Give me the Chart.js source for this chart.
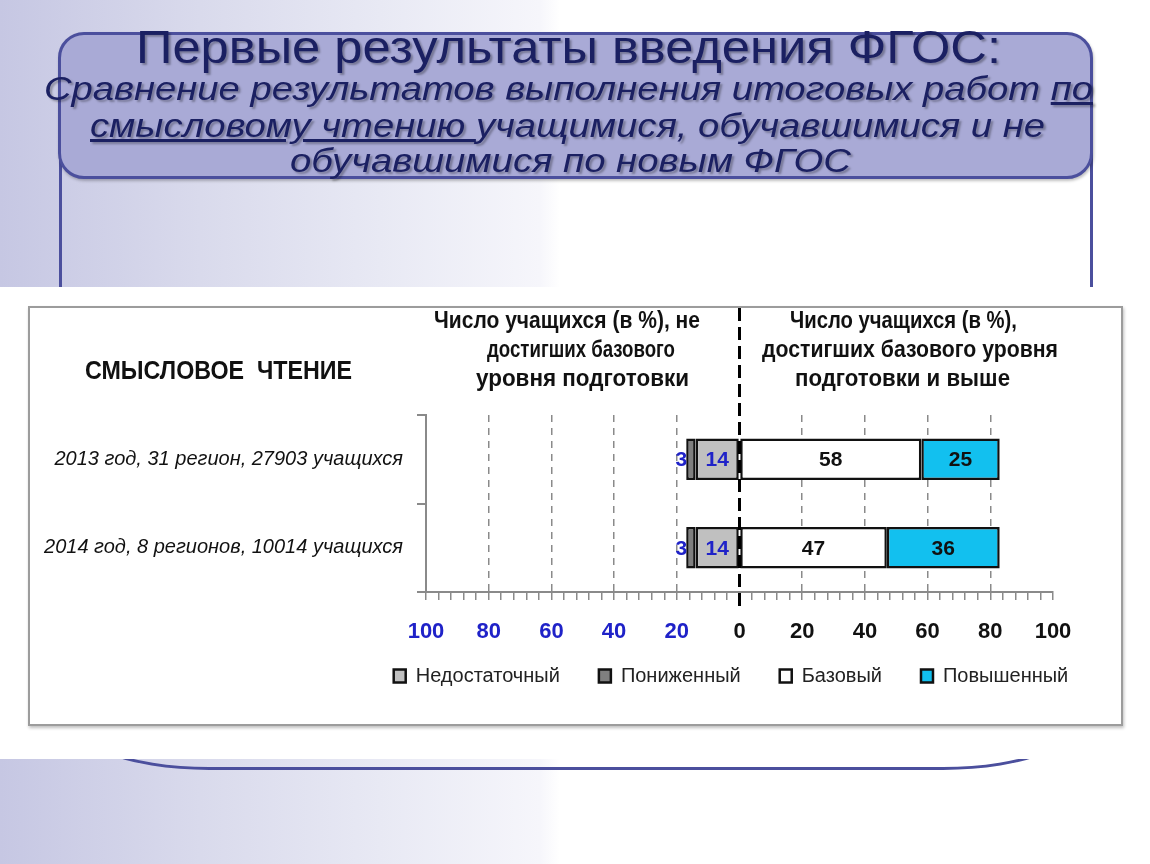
<!DOCTYPE html>
<html lang="ru">
<head>
<meta charset="utf-8">
<script src="https://cdn.jsdelivr.net/npm/chart.js@4.4.1/dist/chart.umd.min.js"></script>
<style>
html,body{margin:0;padding:0}
body{width:1150px;height:864px;position:relative;overflow:hidden;
  background:linear-gradient(to right,#c6c7e3 0px,#d9daec 200px,#e8e9f4 380px,#f6f6fb 540px,#fff 560px);}
#frame{position:absolute;left:59px;top:100px;width:1034px;height:670px;box-sizing:border-box;
  border:3px solid #4b4f9d;border-radius:30px 30px 150px 150px / 30px 30px 60px 60px}
#sheet{position:absolute;left:0;top:287px;width:1150px;height:472px;background:#fff}
#titlebox{position:absolute;left:58px;top:32px;width:1035px;height:147px;box-sizing:border-box;
  background:#a9aad6;border:3px solid #4b4f9d;border-radius:26px;box-shadow:1px 2px 3px rgba(0,0,0,.25)}
.t{position:absolute;white-space:nowrap;transform-origin:0 0;line-height:normal;font-family:'Liberation Sans',Arial,sans-serif}
.ttl{color:#1b2062;text-shadow:2px 2px 2px rgba(0,0,0,.3)}
.sub{font-style:italic;font-size:34px}
.hdr{font-weight:bold;font-size:23px;color:#111}
#panel{position:absolute;left:28px;top:306px;width:1095px;height:420px;box-sizing:border-box;
  border:2px solid #9c9c9c;background:#fff;box-shadow:1px 2px 3px rgba(0,0,0,.25)}
#wrap{position:absolute;left:28px;top:306px;width:1095px;height:420px}
</style>
</head>
<body>
<div id="frame"></div>
<div id="sheet"></div>
<div id="titlebox"></div>
<span class="t ttl" style="left:136px;top:19px;font-size:47px" data-w="865">Первые результаты введения ФГОС:</span>
<span class="t ttl sub" style="left:44px;top:69px" data-w="1049">Сравнение результатов выполнения итоговых работ <u>по</u></span>
<span class="t ttl sub" style="left:90px;top:106px" data-w="955"><u>смысловому чтению </u>учащимися, обучавшимися и не</span>
<span class="t ttl sub" style="left:290px;top:141px" data-w="561">обучавшимися по новым ФГОС</span>

<div id="panel"></div>
<div id="wrap"><canvas id="chart" width="1095" height="420"></canvas></div>

<span class="t" style="left:85px;top:355px;font-weight:bold;font-size:26px;color:#111" data-w="267">СМЫСЛОВОЕ&nbsp; ЧТЕНИЕ</span>
<span class="t hdr" style="left:434px;top:307px" data-w="266">Число учащихся (в %), не</span>
<span class="t hdr" style="left:487px;top:336px" data-w="188">достигших базового</span>
<span class="t hdr" style="left:476px;top:365px" data-w="213">уровня подготовки</span>
<span class="t hdr" style="left:790px;top:307px" data-w="227">Число учащихся (в %),</span>
<span class="t hdr" style="left:762px;top:336px" data-w="296">достигших базового уровня</span>
<span class="t hdr" style="left:795px;top:365px" data-w="215">подготовки и выше</span>

<script>
// ===== данные =====
const CATEGORIES = ['2013 год, 31 регион, 27903 учащихся', '2014 год, 8 регионов, 10014 учащихся'];
const SERIES = ['Недостаточный', 'Пониженный', 'Базовый', 'Повышенный'];
const NEDOST = [-14, -14];
const PONIZH = [-3, -3];
const BAZOV  = [58, 47];
const POVYSH = [25, 36];
const X_MIN = -100, X_MAX = 100, X_MAJOR = 20, X_MINOR = 4;

const COLORS = ['#c0c0c0', '#7f7f7f', '#ffffff', '#12c0ef'];
const BLUE = '#1f22c8';
const SANS = "'Liberation Sans',Arial,sans-serif";
const LEGEND_CENTER = 703;   // центр легенды (px холста)
const LEGEND_ROW_Y = 370;    // середина строки легенды

// растянуть текст по ширине оригинала
function fitWidths(){
  document.querySelectorAll('[data-w]').forEach(el => {
    const w = el.getBoundingClientRect().width;
    if (w > 0) el.style.transform = `scaleX(${(+el.dataset.w) / w})`;
  });
}

// пунктирная линия нуля
const zeroLine = {
  id: 'zeroLine',
  afterDatasetsDraw(chart){
    const {ctx} = chart;
    const x = chart.scales.x.getPixelForValue(0);
    ctx.save();
    ctx.strokeStyle = '#000';
    ctx.lineWidth = 3;
    ctx.setLineDash([13, 6]);
    ctx.beginPath();
    ctx.moveTo(x, 2);
    ctx.lineTo(x, 302);
    ctx.stroke();
    ctx.restore();
  }
};

// легенда под правой частью графика
const legendPlace = {
  id: 'legendPlace',
  afterLayout(chart){
    const lg = chart.legend;
    if (!lg) return;
    const pad = lg.options.labels.padding;
    const h = lg.bottom - lg.top;
    lg.left = LEGEND_CENTER - 400;
    lg.right = LEGEND_CENTER + 400;
    lg.top = LEGEND_ROW_Y - pad - 10;
    lg.bottom = lg.top + h;
  }
};

// подписи значений
const valueLabels = {
  id: 'valueLabels',
  afterDatasetsDraw(chart){
    const {ctx} = chart;
    ctx.save();
    ctx.font = `bold 21px ${SANS}`;
    ctx.textBaseline = 'middle';
    chart.data.datasets.forEach((ds, di) => {
      const meta = chart.getDatasetMeta(di);
      meta.data.forEach((bar, i) => {
        const p = bar.getProps(['x', 'y', 'base'], true);
        const v = Math.abs(ds.data[i]);
        ctx.fillStyle = di < 2 ? BLUE : '#111';
        if (di === 1){
          ctx.textAlign = 'right';
          ctx.fillText(v, Math.min(p.x, p.base) + 1, p.y + 1);
        } else {
          ctx.textAlign = 'center';
          ctx.fillText(v, (p.x + p.base) / 2, p.y + 1);
        }
      });
    });
    ctx.restore();
  }
};

const mkSet = (label, data, color) => ({
  label, data, backgroundColor: color, borderColor: '#111', borderWidth: 2.5, borderSkipped: false
});

fitWidths();

new Chart(document.getElementById('chart'), {
  type: 'bar',
  data: {
    labels: CATEGORIES,
    datasets: [
      mkSet(SERIES[0], NEDOST, COLORS[0]),
      mkSet(SERIES[1], PONIZH, COLORS[1]),
      mkSet(SERIES[2], BAZOV,  COLORS[2]),
      mkSet(SERIES[3], POVYSH, COLORS[3])
    ]
  },
  options: {
    indexAxis: 'y',
    responsive: false,
    animation: false,
    barPercentage: 0.47,
    categoryPercentage: 1,
    layout: { padding: { top: 109, right: 70, bottom: 5, left: 0 } },
    scales: {
      x: {
        stacked: true,
        min: X_MIN, max: X_MAX,
        afterBuildTicks(scale){
          const t = [];
          for (let v = X_MIN; v <= X_MAX; v += X_MINOR) t.push({ value: v });
          scale.ticks = t;
        },
        afterFit(scale){ scale.height = 60; },
        ticks: {
          autoSkip: false, maxRotation: 0, padding: 19,
          font: { family: SANS, weight: 'bold', size: 22 },
          color: (c) => c.tick && c.tick.value < 0 ? BLUE : '#111',
          callback: (v) => (v % X_MAJOR === 0 ? String(Math.abs(v)) : '')
        },
        grid: {
          color: (c) => {
            const v = c.tick ? c.tick.value : 0;
            return (v % X_MAJOR === 0 && v !== 0 && Math.abs(v) !== 100) ? '#8a8a8a' : 'rgba(0,0,0,0)';
          },
          lineWidth: 1.5,
          tickColor: '#8a8a8a',
          tickLength: 8
        },
        border: { color: '#8a8a8a', width: 2, dash: [7, 6] }
      },
      y: {
        stacked: true,
        afterFit(scale){ scale.width = 398; },
        ticks: {
          padding: 14,
          color: '#111',
          font: { family: SANS, style: 'italic', size: 20 }
        },
        grid: { drawOnChartArea: false, color: '#8a8a8a', tickLength: 9, lineWidth: 2 },
        border: { color: '#8a8a8a', width: 2 }
      }
    },
    plugins: {
      legend: {
        position: 'bottom',
        align: 'center',
        labels: {
          boxWidth: 12, boxHeight: 13, padding: 39,
          color: '#222',
          font: { family: SANS, size: 20 }
        }
      },
      tooltip: { enabled: false }
    }
  },
  plugins: [zeroLine, legendPlace, valueLabels]
});
</script>
</body>
</html>
